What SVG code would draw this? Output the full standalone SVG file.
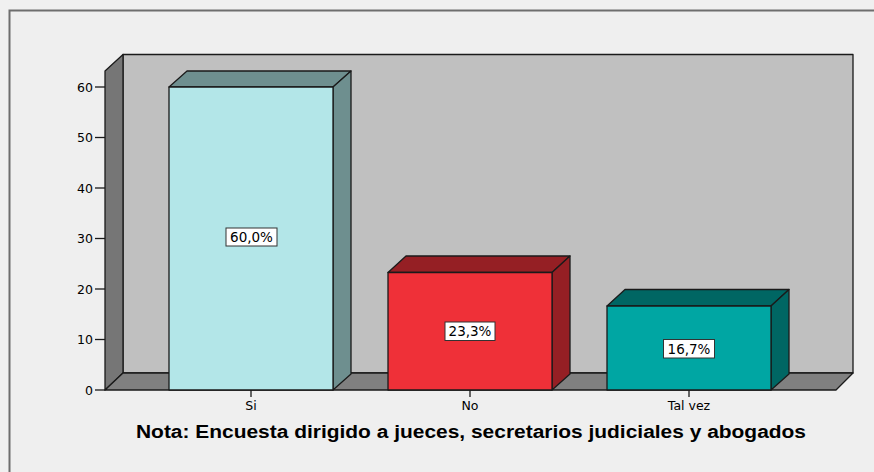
<svg xmlns="http://www.w3.org/2000/svg" width="874" height="472" viewBox="0 0 874 472">
<style>
text{font-family:"DejaVu Sans","Liberation Sans",sans-serif;fill:#000}
.ax{font-size:12.5px;text-anchor:end}
.cat{font-size:12.5px;text-anchor:middle}
.lbl{font-size:13.5px;text-anchor:middle}
.edge{stroke:#1a1a1a;stroke-width:1.3;stroke-linejoin:round}
.tick{stroke:#1a1a1a;stroke-width:1.3}
.box{fill:#fff;stroke:#333;stroke-width:1}
</style>
<rect x="0" y="0" width="874" height="472" fill="#f0f0f0"/>
<rect x="9.5" y="10.5" width="880" height="480" fill="#efefef" stroke="#6e6e6e" stroke-width="2"/>
<g id="chart-frame">
  <polygon points="123,54.5 853,54.5 853,373 123,373" fill="#c0c0c0" class="edge"/>
  <polygon points="105,71 123,54.5 123,373 105,390" fill="#767676" class="edge"/>
  <polygon points="105,390 123,373 853,373 836,390" fill="#808080" class="edge"/>
</g>
<g id="y-axis">
  <g class="tick">
    <line x1="95" y1="390" x2="105" y2="390"/>
    <line x1="95" y1="339.5" x2="105" y2="339.5"/>
    <line x1="95" y1="289" x2="105" y2="289"/>
    <line x1="95" y1="238.5" x2="105" y2="238.5"/>
    <line x1="95" y1="188" x2="105" y2="188"/>
    <line x1="95" y1="137.5" x2="105" y2="137.5"/>
    <line x1="95" y1="87" x2="105" y2="87"/>
  </g>
  <text class="ax" x="93" y="394.5">0</text>
  <text class="ax" x="93" y="344">10</text>
  <text class="ax" x="93" y="293.5">20</text>
  <text class="ax" x="93" y="243">30</text>
  <text class="ax" x="93" y="192.5">40</text>
  <text class="ax" x="93" y="142">50</text>
  <text class="ax" x="93" y="91.5">60</text>
</g>
<g id="bar-si">
  <polygon points="169,87 187,71 351,71 333,87" fill="#6e8f8f" class="edge"/>
  <polygon points="333,87 351,71 351,374 333,390" fill="#6e8f8f" class="edge"/>
  <rect x="169" y="87" width="164" height="303" fill="#b3e6e8" class="edge"/>
  <rect class="box" x="226" y="228" width="51" height="18"/>
  <text class="lbl" x="251.5" y="242">60,0%</text>
</g>
<g id="bar-no">
  <polygon points="388,272.5 406,256 570,256 552,272.5" fill="#951f24" class="edge"/>
  <polygon points="552,272.5 570,256 570,374 552,390" fill="#951f24" class="edge"/>
  <rect x="388" y="272.5" width="164" height="117.5" fill="#ef3038" class="edge"/>
  <rect class="box" x="445" y="322" width="50" height="18.5"/>
  <text class="lbl" x="470" y="336">23,3%</text>
</g>
<g id="bar-talvez">
  <polygon points="607,306 625,289.5 789,289.5 771,306" fill="#006663" class="edge"/>
  <polygon points="771,306 789,289.5 789,374 771,390" fill="#006663" class="edge"/>
  <rect x="607" y="306" width="164" height="84" fill="#00a6a3" class="edge"/>
  <rect class="box" x="663.5" y="339.5" width="51" height="18.5"/>
  <text class="lbl" x="689" y="353.5">16,7%</text>
</g>
<g id="x-axis">
  <g class="tick">
    <line x1="251" y1="390" x2="251" y2="397"/>
    <line x1="470" y1="390" x2="470" y2="397"/>
    <line x1="689" y1="390" x2="689" y2="397"/>
  </g>
  <text class="cat" x="251" y="410">Si</text>
  <text class="cat" x="470" y="410">No</text>
  <text class="cat" x="689" y="410">Tal vez</text>
</g>
<text x="136" y="437.5" font-family="Liberation Sans, Arial, sans-serif" style="font-family:'Liberation Sans',Arial,sans-serif" font-size="18" font-weight="bold" textLength="670" lengthAdjust="spacingAndGlyphs">Nota: Encuesta dirigido a jueces, secretarios judiciales y abogados</text>
</svg>
